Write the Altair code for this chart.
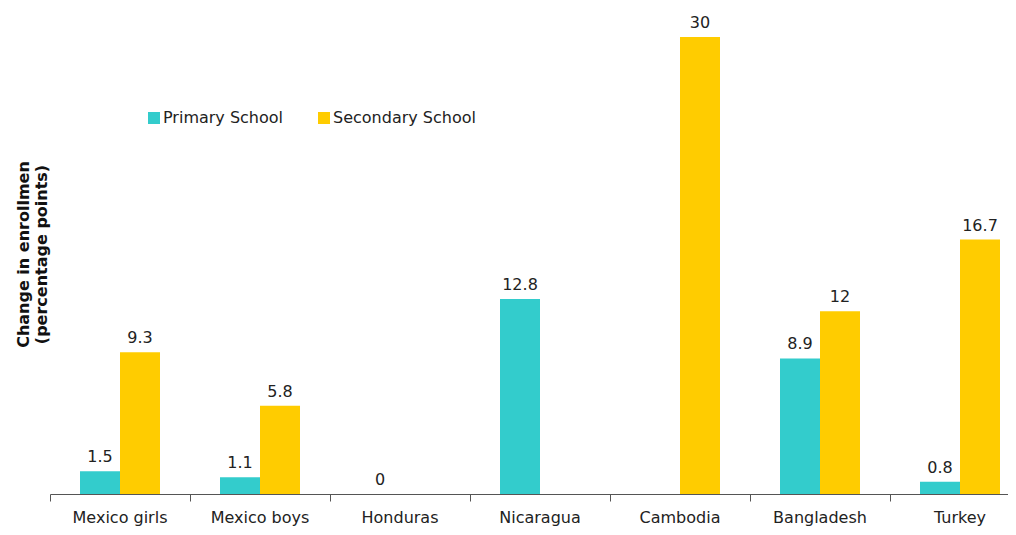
import altair as alt
import pandas as pd

countries = ["Mexico girls", "Mexico boys", "Honduras", "Nicaragua", "Cambodia", "Bangladesh", "Turkey"]
primary = [1.5, 1.1, 0, 12.8, None, 8.9, 0.8]
secondary = [9.3, 5.8, None, None, 30, 12, 16.7]
series = ["Primary School", "Secondary School"]
colors = ["#33CCCC", "#FFCC00"]

rows = []
for c, p, s in zip(countries, primary, secondary):
    if p is not None:
        rows.append({"country": c, "school": series[0], "value": p, "label": f"{p:g}"})
    if s is not None:
        rows.append({"country": c, "school": series[1], "value": s, "label": f"{s:g}"})
df = pd.DataFrame(rows)

FONT = "DejaVu Sans"

x = alt.X(
    "country:N",
    sort=countries,
    scale=alt.Scale(range=[0, 980], paddingInner=0, paddingOuter=0),
    axis=alt.Axis(
        title=None,
        labelAngle=0,
        labelFont=FONT,
        labelFontSize=16,
        labelColor="#222222",
        labelPadding=8,
        tickSize=7,
        tickColor="#555555",
        domainColor="#555555",
        bandPosition=0,
        grid=False,
    ),
)
xo = alt.XOffset("school:N", sort=series, scale=alt.Scale(paddingInner=0, paddingOuter=0.75))
y = alt.Y(
    "value:Q",
    scale=alt.Scale(domain=[0, 30], nice=False, zero=True),
    axis=alt.Axis(
        title=["Change in enrollmen", "(percentage points)"],
        labels=False,
        ticks=False,
        domain=False,
        grid=False,
        titleFont=FONT,
        titleFontSize=16,
        titleFontWeight="bold",
        titleColor="#111111",
        titleLineHeight=18,
        titleAngle=-90,
        titleAlign="center",
        titleBaseline="alphabetic",
        titleX=-22,
        titleY=217,
    ),
)

bars = alt.Chart(df).mark_bar().encode(
    x=x,
    xOffset=xo,
    y=y,
    color=alt.Color(
        "school:N",
        sort=series,
        scale=alt.Scale(domain=series, range=colors),
        legend=alt.Legend(
            title=None,
            orient="none",
            direction="horizontal",
            legendX=96,
            legendY=73,
            symbolType="square",
            symbolSize=144,
            symbolStrokeWidth=0,
            labelFont=FONT,
            labelFontSize=16,
            labelColor="#222222",
            labelOffset=1,
            columnPadding=32,
        ),
    ),
)

labels = alt.Chart(df).mark_text(
    font=FONT, fontSize=16, color="#222222", baseline="alphabetic", dy=-9
).encode(x=x, xOffset=xo, y=y, text="label:N")

chart = (
    alt.layer(bars, labels)
    .properties(
        width=958,
        height=457,
        autosize=alt.AutoSizeParams(type="none"),
        padding={"left": 42, "top": 29, "right": 0, "bottom": 33},
    )
    .configure_view(stroke=None)
)

chart.save("out.html", embed_options={"renderer": "svg", "actions": False})
